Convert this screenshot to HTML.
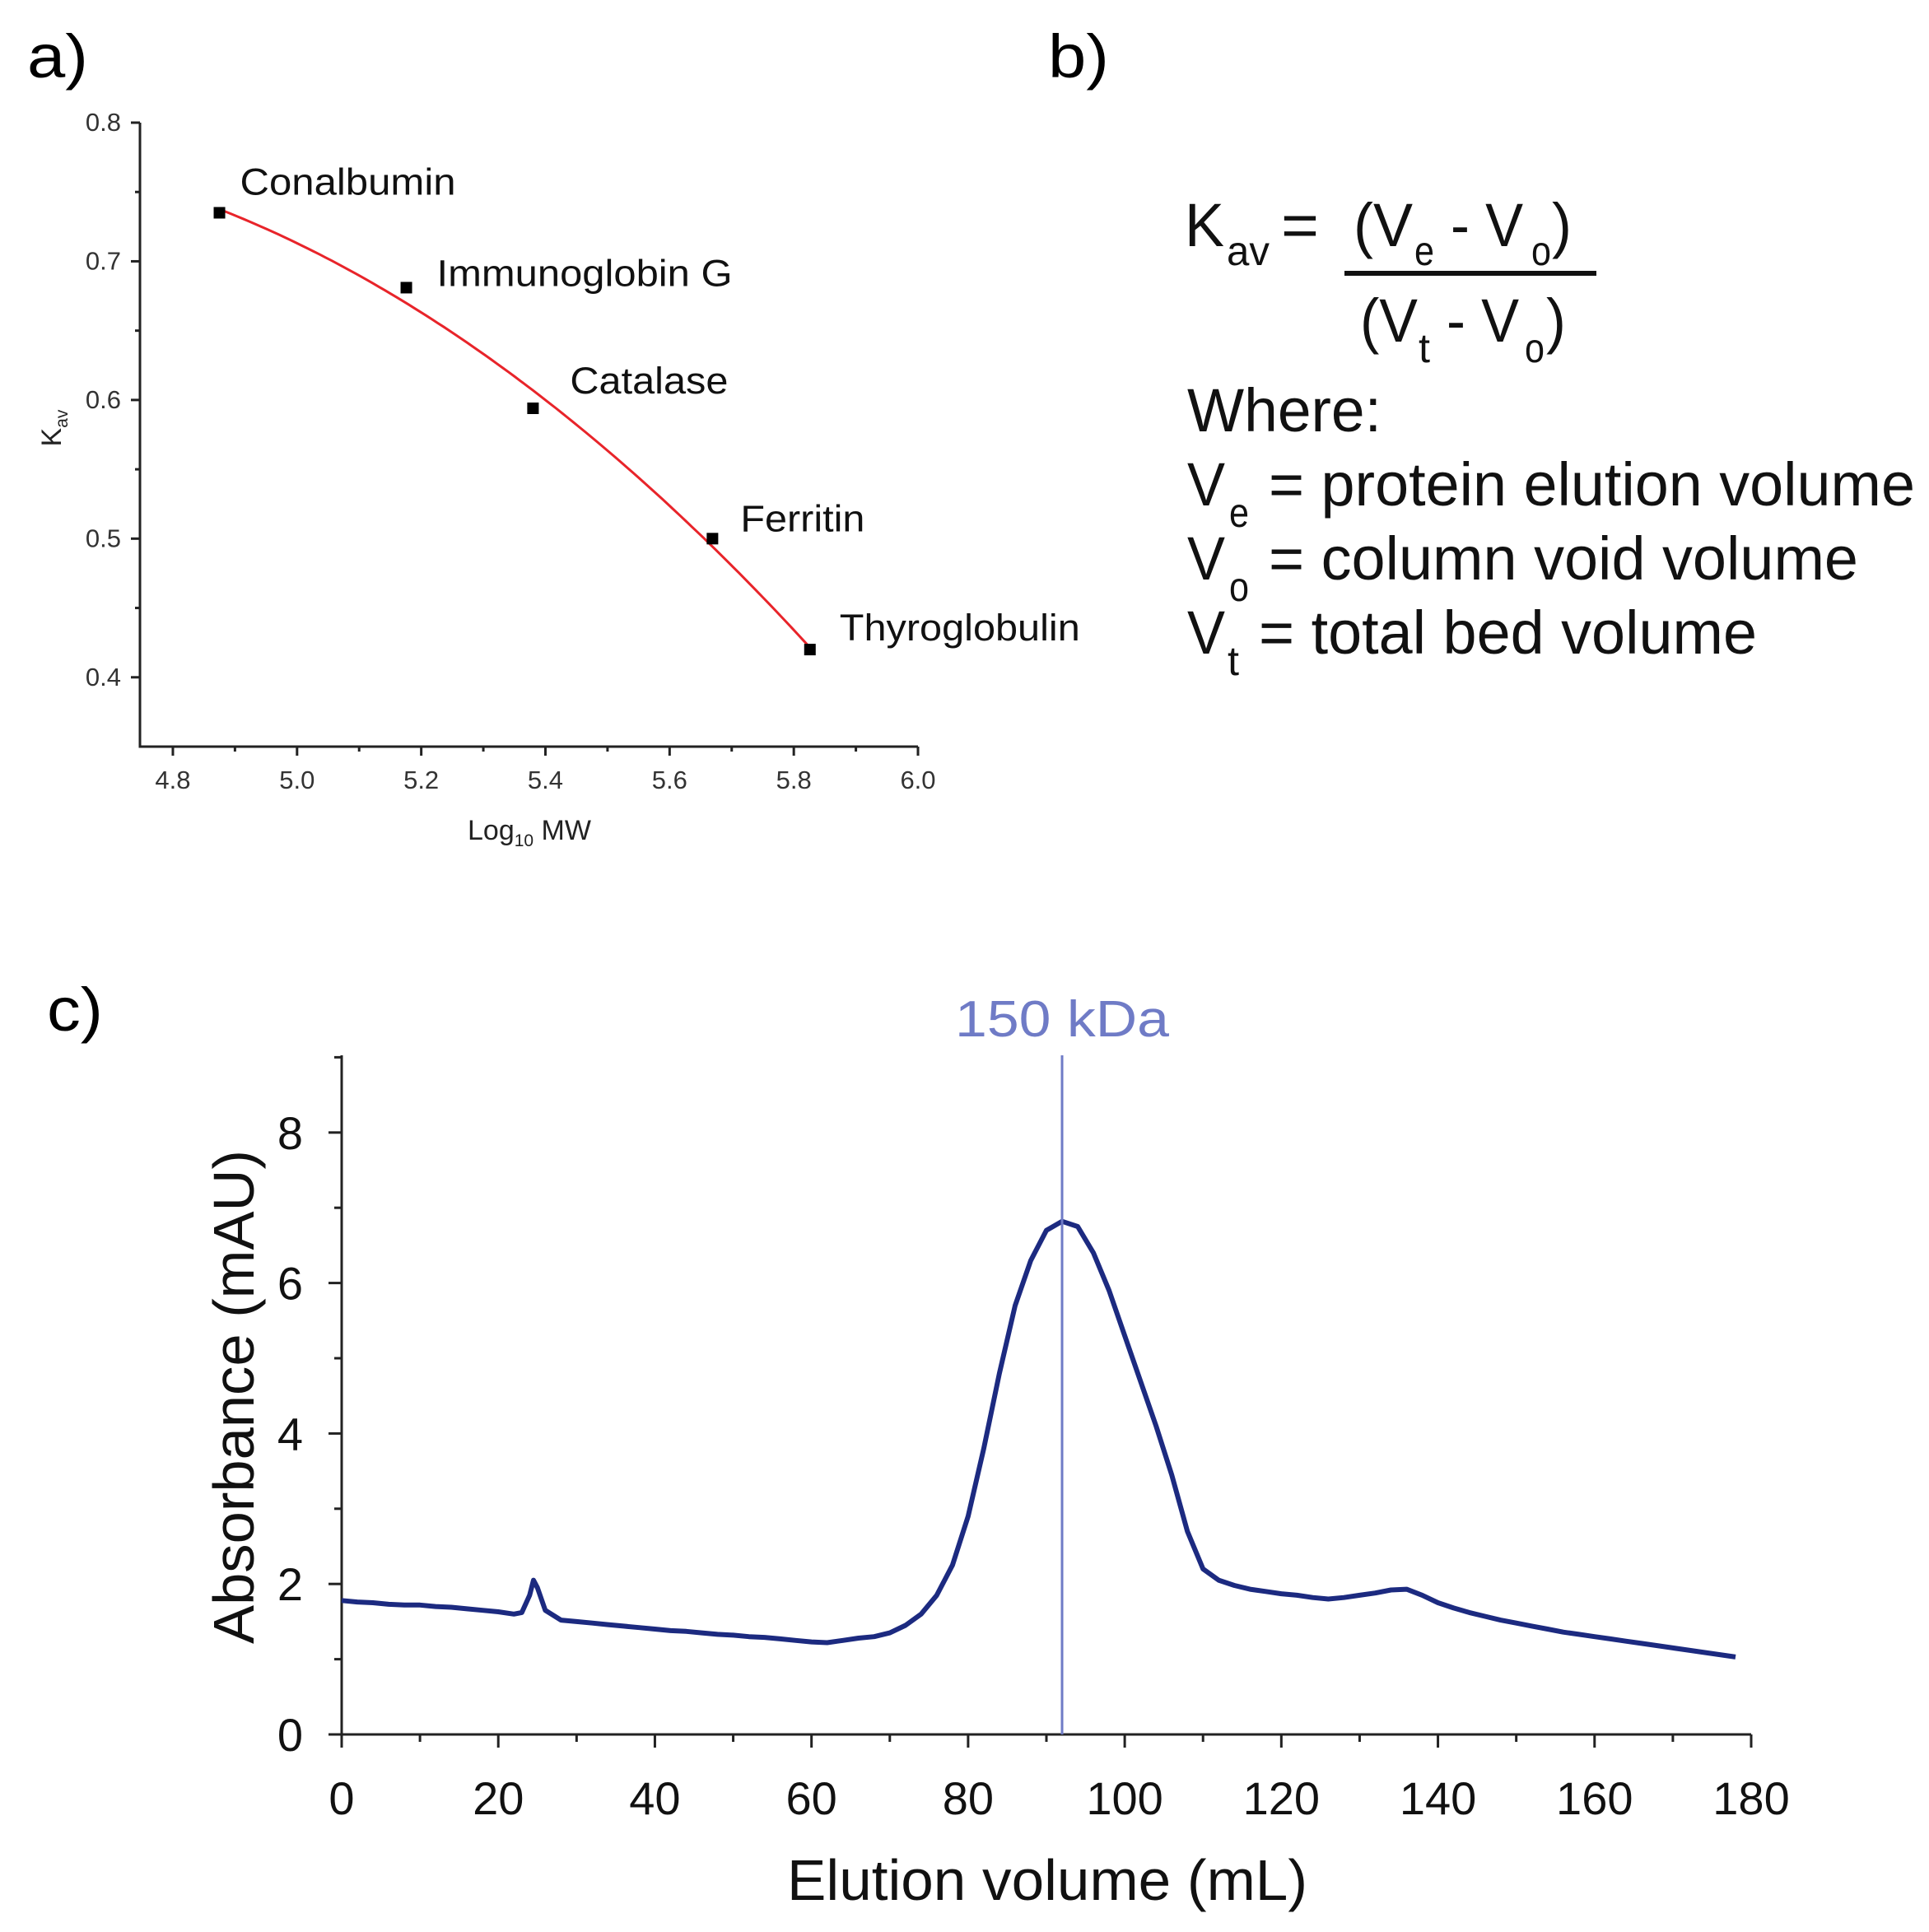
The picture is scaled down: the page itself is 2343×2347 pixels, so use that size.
<!DOCTYPE html>
<html><head><meta charset="utf-8"><style>
html,body{margin:0;padding:0;background:#fff}
svg{display:block;font-family:"Liberation Sans",Arial,sans-serif}
</style></head><body>
<svg id="fig" width="2343" height="2347" viewBox="0 0 2343 2347" xmlns="http://www.w3.org/2000/svg">
<rect width="2343" height="2347" fill="#fff"/>
<text x="33" y="94" font-size="74" textLength="74" lengthAdjust="spacingAndGlyphs">a)</text>
<text x="1273" y="94" font-size="74" textLength="74" lengthAdjust="spacingAndGlyphs">b)</text>
<text x="57" y="1252" font-size="74" textLength="68" lengthAdjust="spacingAndGlyphs">c)</text>

<g id="pa"></g>

<g fill="#111">
  <text x="1439" y="299" font-size="74" textLength="48" lengthAdjust="spacingAndGlyphs">K</text>
  <text x="1490" y="322" font-size="50" textLength="52" lengthAdjust="spacingAndGlyphs">av</text>
  <text x="1556" y="299" font-size="74" textLength="46" lengthAdjust="spacingAndGlyphs">=</text>
  <text x="1644" y="299" font-size="74" textLength="72" lengthAdjust="spacingAndGlyphs">(V</text>
  <text x="1718" y="322" font-size="50" textLength="24" lengthAdjust="spacingAndGlyphs">e</text>
  <text x="1762" y="299" font-size="74" textLength="88" lengthAdjust="spacingAndGlyphs">- V</text>
  <text x="1860" y="322" font-size="50" textLength="24" lengthAdjust="spacingAndGlyphs">o</text>
  <text x="1885" y="299" font-size="74" textLength="24" lengthAdjust="spacingAndGlyphs">)</text>
  <line x1="1633" y1="332" x2="1939" y2="332" stroke="#111" stroke-width="6"/>
  <text x="1652" y="415" font-size="74" textLength="70" lengthAdjust="spacingAndGlyphs">(V</text>
  <text x="1723" y="440" font-size="50" textLength="14" lengthAdjust="spacingAndGlyphs">t</text>
  <text x="1757" y="415" font-size="74" textLength="88" lengthAdjust="spacingAndGlyphs">- V</text>
  <text x="1852" y="440" font-size="50" textLength="24" lengthAdjust="spacingAndGlyphs">o</text>
  <text x="1878" y="415" font-size="74" textLength="24" lengthAdjust="spacingAndGlyphs">)</text>
  <text x="1442" y="524" font-size="74" textLength="236" lengthAdjust="spacingAndGlyphs">Where:</text>
  <text x="1442" y="614" font-size="74" textLength="46" lengthAdjust="spacingAndGlyphs">V</text>
  <text x="1493" y="640" font-size="50" textLength="24" lengthAdjust="spacingAndGlyphs">e</text>
  <text x="1541" y="614" font-size="74" textLength="785" lengthAdjust="spacingAndGlyphs">= protein elution volume</text>
  <text x="1442" y="704" font-size="74" textLength="46" lengthAdjust="spacingAndGlyphs">V</text>
  <text x="1493" y="730" font-size="50" textLength="24" lengthAdjust="spacingAndGlyphs">o</text>
  <text x="1541" y="704" font-size="74" textLength="716" lengthAdjust="spacingAndGlyphs">= column void volume</text>
  <text x="1442" y="794" font-size="74" textLength="46" lengthAdjust="spacingAndGlyphs">V</text>
  <text x="1491" y="820" font-size="50" textLength="14" lengthAdjust="spacingAndGlyphs">t</text>
  <text x="1529" y="794" font-size="74" textLength="605" lengthAdjust="spacingAndGlyphs">= total bed volume</text>
</g>

<g id="pc"></g>
</svg>
<script>
// ---------- Panel a data ----------
const proteinNames = ["Conalbumin","Immunoglobin G","Catalase","Ferritin","Thyroglobulin"];
const logMW = [4.875, 5.176, 5.38, 5.669, 5.826];
const kavValues = [0.735, 0.681, 0.594, 0.500, 0.420];
const aXTicks = [4.8, 5.0, 5.2, 5.4, 5.6, 5.8, 6.0];
const aYTicks = [0.4, 0.5, 0.6, 0.7, 0.8];
// ---------- Panel c data ----------
const elutionVol = [0,2,4,6,8,10,12,14,16,18,20,22,23,24,24.5,25,26,28,30,32,34,36,38,40,42,44,46,48,50,52,54,56,58,60,62,64,66,68,70,72,74,76,78,80,82,84,86,88,90,92,94,96,98,100,102,104,106,108,110,112,114,116,118,120,122,124,126,128,130,132,134,136,138,140,142,144,146,148,150,152,154,156,158,160,162,164,166,168,170,172,174,176,178];
const absorbance = [1.78,1.76,1.75,1.73,1.72,1.72,1.70,1.69,1.67,1.65,1.63,1.60,1.62,1.85,2.05,1.95,1.65,1.52,1.50,1.48,1.46,1.44,1.42,1.40,1.38,1.37,1.35,1.33,1.32,1.30,1.29,1.27,1.25,1.23,1.22,1.25,1.28,1.30,1.35,1.45,1.60,1.85,2.25,2.9,3.8,4.8,5.7,6.3,6.7,6.82,6.75,6.4,5.9,5.3,4.7,4.1,3.45,2.7,2.2,2.05,1.98,1.93,1.90,1.87,1.85,1.82,1.80,1.82,1.85,1.88,1.92,1.93,1.85,1.75,1.68,1.62,1.57,1.52,1.48,1.44,1.40,1.36,1.33,1.30,1.27,1.24,1.21,1.18,1.15,1.12,1.09,1.06,1.03];
const cXTicks = [0,20,40,60,80,100,120,140,160,180];
const cYTicks = [0,2,4,6,8];
const markerVolume = 92;
const markerLabel = "150 kDa";

const NS = "http://www.w3.org/2000/svg";
function mk(parent, tag, attrs){ const e=document.createElementNS(NS,tag); for(const k in attrs) e.setAttribute(k,attrs[k]); parent.appendChild(e); return e; }

// ===== Panel a =====
(function(){
  const g = document.getElementById('pa');
  const X0=4.747, X1=6.0, Y0=0.35, Y1=0.8;
  const L=170, R=1115, T=149, B=907;
  const sx = v => L + (v-X0)/(X1-X0)*(R-L);
  const sy = v => B - (v-Y0)/(Y1-Y0)*(B-T);
  const ax = mk(g,'path',{d:`M${L} ${T} V${B} H${R}`,fill:'none',stroke:'#222','stroke-width':3});
  
  
  for(let v=4.8; v<=6.001; v+=0.1){
    const major = Math.abs(Math.round(v*5)-v*5)<1e-6;
    const t=mk(g,'line',{x1:sx(v),x2:sx(v),y1:B,y2:B+(major?11:6),stroke:'#222','stroke-width':3});
    
    
  }
  aXTicks.forEach(v=>{
    const t=mk(g,'text',{x:sx(v),y:958,'font-size':31,'text-anchor':'middle',fill:'#333'}); t.textContent=v.toFixed(1);
    
    
  });
  for(let v=0.4; v<=0.8001; v+=0.05){
    const major = Math.abs(Math.round(v*10)-v*10)<1e-6;
    const t=mk(g,'line',{x1:L,x2:L-(major?11:6),y1:sy(v),y2:sy(v),stroke:'#222','stroke-width':3});
    
    
  }
  aYTicks.forEach(v=>{
    const t=mk(g,'text',{x:147,y:sy(v)+10,'font-size':31,'text-anchor':'end',fill:'#333'}); t.textContent=v.toFixed(1);
    
    
  });
  const yl=mk(g,'text',{transform:'translate(74 520) rotate(-90)','font-size':34,'text-anchor':'middle',fill:'#222'});
  yl.innerHTML='K<tspan font-size="21" dy="8">av</tspan>';
  
  
  const xl=mk(g,'text',{x:643,y:1020,'font-size':34,'text-anchor':'middle',fill:'#222'});
  xl.innerHTML='Log<tspan font-size="21" dy="8">10</tspan><tspan dy="-8"> MW</tspan>';
  
  
  // quadratic least-squares fit
  const n=logMW.length; let S=[0,0,0,0,0], Ty=[0,0,0];
  for(let i=0;i<n;i++){ const x=logMW[i]-5.3; for(let k=0;k<5;k++) S[k]+=Math.pow(x,k); for(let k=0;k<3;k++) Ty[k]+=kavValues[i]*Math.pow(x,k); }
  const M=[[S[0],S[1],S[2],Ty[0]],[S[1],S[2],S[3],Ty[1]],[S[2],S[3],S[4],Ty[2]]];
  for(let i=0;i<3;i++){ for(let j=i+1;j<3;j++){ const f=M[j][i]/M[i][i]; for(let k=i;k<4;k++) M[j][k]-=f*M[i][k]; } }
  const c=[0,0,0]; for(let i=2;i>=0;i--){ let s=M[i][3]; for(let k=i+1;k<3;k++) s-=M[i][k]*c[k]; c[i]=s/M[i][i]; }
  let d=''; const xa=Math.min(...logMW), xb=Math.max(...logMW);
  for(let i=0;i<=100;i++){ const x=xa+(xb-xa)*i/100, u=x-5.3; const y=c[0]+c[1]*u+c[2]*u*u; d+=(i?'L':'M')+sx(x).toFixed(1)+' '+sy(y).toFixed(1); }
  const fit=mk(g,'path',{d:d,fill:'none',stroke:'#e8242a','stroke-width':3});
  
  
  const lblOff=[[25,-22],[37,-2],[45,-18],[34,-9],[36,-11]];
  const lblW=[262,359,192,151,292];
  logMW.forEach((x,i)=>{
    const p=mk(g,'rect',{x:sx(x)-7,y:sy(kavValues[i])-7,width:14,height:14,fill:'#000'});
    
    
    const t=mk(g,'text',{x:sx(x)+lblOff[i][0],y:sy(kavValues[i])+lblOff[i][1],'font-size':45,fill:'#111',textLength:lblW[i],lengthAdjust:'spacingAndGlyphs'});
    t.textContent=proteinNames[i];
    
    
  });
})();

// ===== Panel c =====
(function(){
  const g=document.getElementById('pc');
  const L=415, R=2127, B=2107, T=1282;
  const sx=v=>L+v/180*(R-L);
  const sy=v=>B-v*91.4;
  const ax=mk(g,'path',{d:`M${L} ${T} V${B} H${R}`,fill:'none',stroke:'#222','stroke-width':3});
  
  
  for(let v=0;v<=180;v+=10){
    const t=mk(g,'line',{x1:sx(v),x2:sx(v),y1:B,y2:B+(v%20===0?16:9),stroke:'#222','stroke-width':3});
    
    
  }
  cXTicks.forEach(v=>{
    const t=mk(g,'text',{x:sx(v),y:2204,'font-size':56,'text-anchor':'middle',fill:'#111'}); t.textContent=v;
    
    
  });
  for(let v=0;v<=9;v++){
    const t=mk(g,'line',{x1:L,x2:L-(v%2===0?16:9),y1:sy(v),y2:sy(v),stroke:'#222','stroke-width':3});
    
    
  }
  cYTicks.forEach(v=>{
    const t=mk(g,'text',{x:368,y:sy(v)+20,'font-size':56,'text-anchor':'end',fill:'#111'}); t.textContent=v;
    
    
  });
  const yl=mk(g,'text',{transform:'translate(308 1697) rotate(-90)','font-size':70,'text-anchor':'middle',fill:'#111',textLength:600,lengthAdjust:'spacingAndGlyphs'});
  yl.textContent='Absorbance (mAU)';
  
  
  const xl=mk(g,'text',{x:1272,y:2308,'font-size':70,'text-anchor':'middle',fill:'#111',textLength:632,lengthAdjust:'spacingAndGlyphs'});
  xl.textContent='Elution volume (mL)';
  
  
  let d=''; elutionVol.forEach((x,i)=>{ d+=(i?'L':'M')+sx(x).toFixed(1)+' '+sy(absorbance[i]).toFixed(1); });
  const line=mk(g,'path',{d:d,fill:'none',stroke:'#1c2a80','stroke-width':6,'stroke-linejoin':'round'});
  
  
  const ml=mk(g,'line',{x1:sx(markerVolume),x2:sx(markerVolume),y1:T,y2:B,stroke:'#6f7bc6','stroke-width':3});
  
  
  const mt=mk(g,'text',{x:sx(markerVolume),y:1259,'font-size':62,'text-anchor':'middle',fill:'#6f7bc6',textLength:260,lengthAdjust:'spacingAndGlyphs'});
  mt.textContent=markerLabel;
  
  
})();
</script>
</body></html>
